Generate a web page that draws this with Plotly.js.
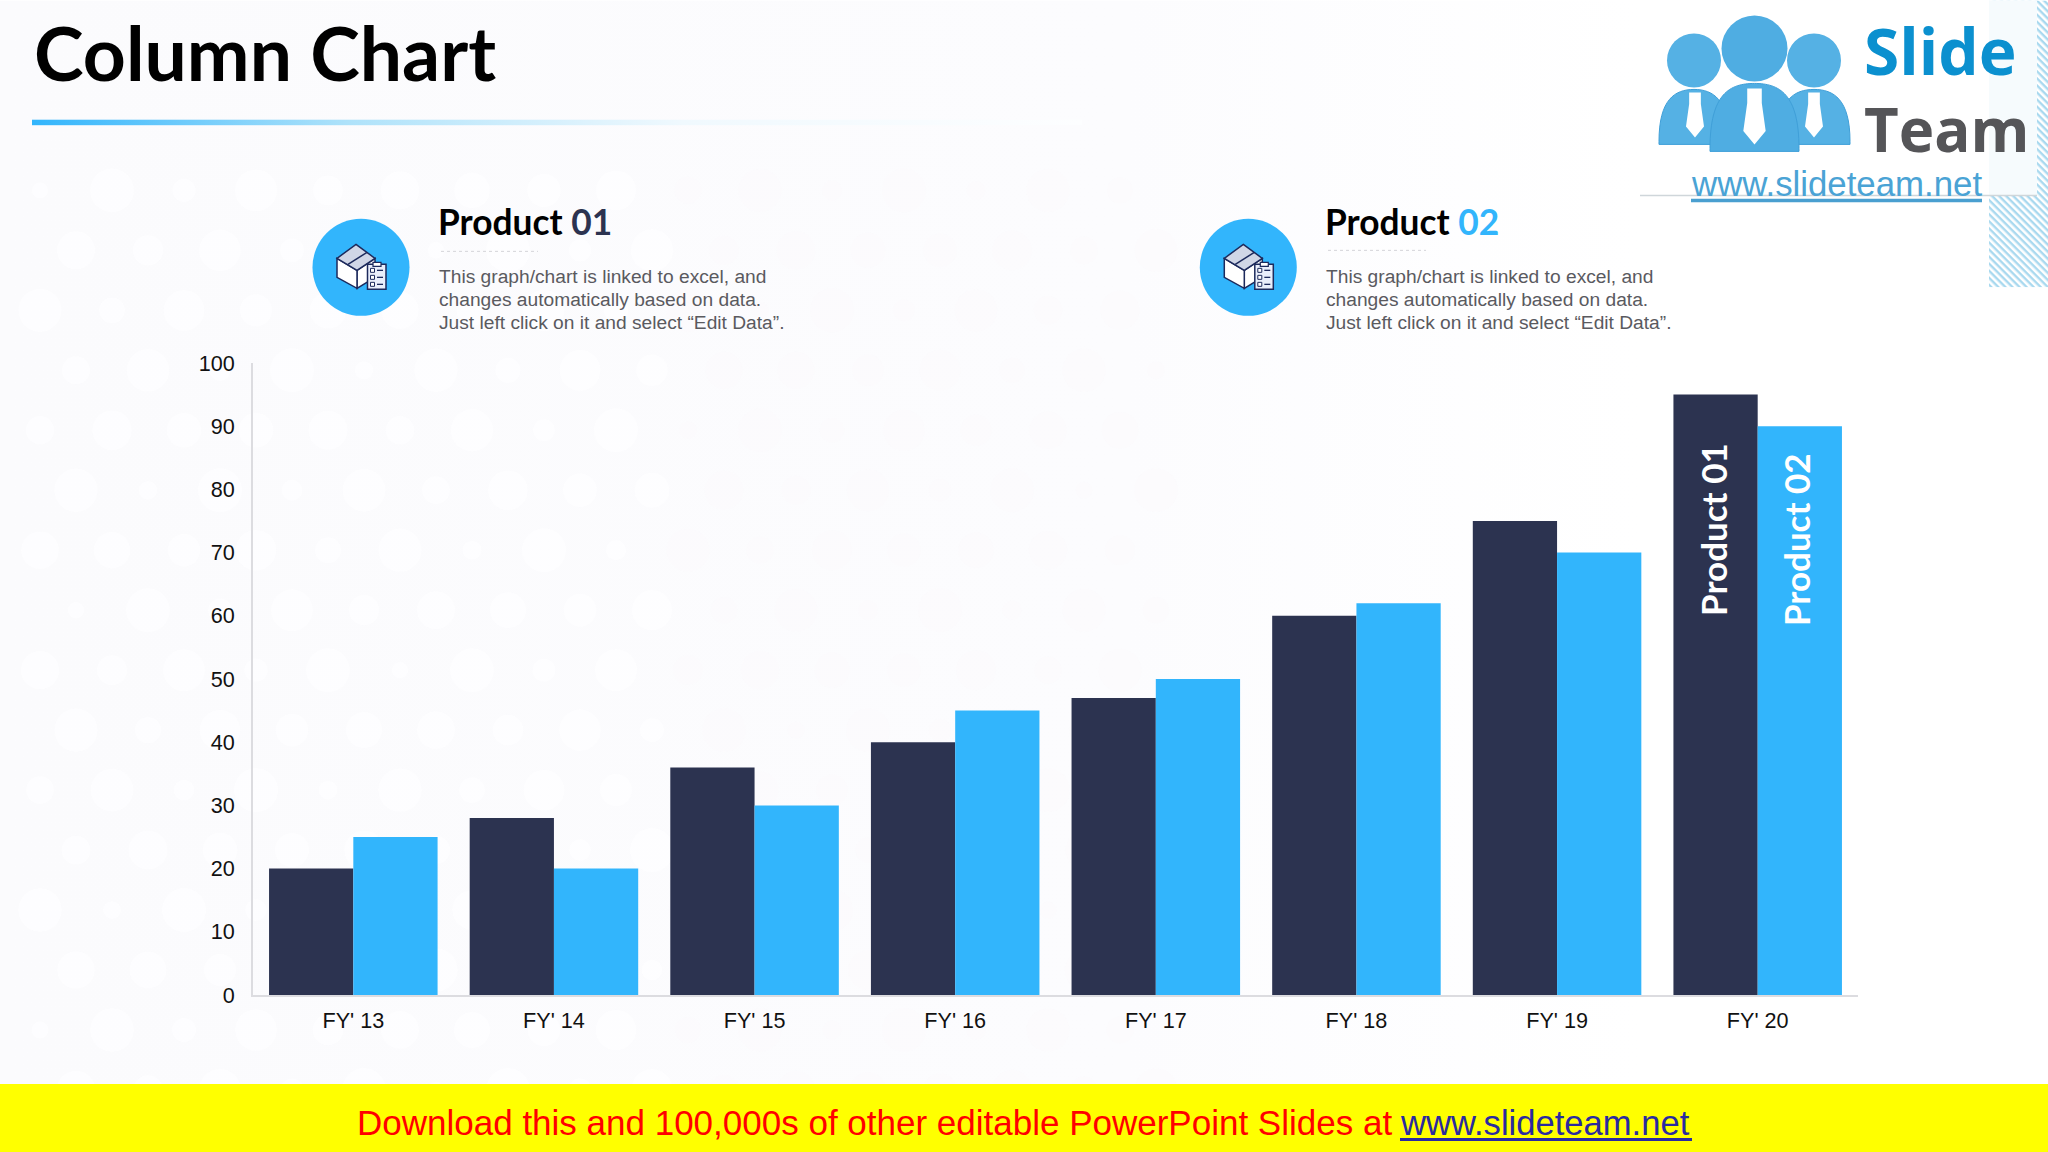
<!DOCTYPE html>
<html>
<head>
<meta charset="utf-8">
<script src="https://cdn.plot.ly/plotly-3.0.1.min.js"></script>
<style>html,body{margin:0;padding:0;background:#fff;overflow:hidden}</style>
</head>
<body>
<div id="chart" style="width:2048px;height:1152px"></div>
<script>
const categories = ["FY' 13","FY' 14","FY' 15","FY' 16","FY' 17","FY' 18","FY' 19","FY' 20"];
const product01 = [20,28,36,40,47,60,75,95];
const product02 = [25,20,30,45,50,62,70,90];
const yTicks = [0,10,20,30,40,50,60,70,80,90,100];
const bodyLines = ["This graph/chart is linked to excel, and","changes automatically based on data.","Just left click on it and select “Edit Data”."];

const DARK = '#2c3350', BLUE = '#32b5fc';
const L = 253, R = 1858, T = 362.7, B = 995;
const px = x => (x - L) / (R - L), py = y => (B - y) / (B - T);
const HEAD = 'Lato, sans-serif', BODY = '"Liberation Sans", Arial, sans-serif';

function uri(svg){ return 'data:image/svg+xml;charset=utf-8,' + encodeURIComponent(svg); }
function img(x,y,w,h,svg,layer){
  return {source:uri(svg),xref:'paper',yref:'paper',x:px(x),y:py(y),sizex:w/(R-L),sizey:h/(B-T),
          xanchor:'left',yanchor:'top',sizing:'stretch',layer:layer||'below'};
}

/* page background: faint halftone */
let dots = '';
for (let j = 0; j < 16; j++) for (let i = 0; i < 16; i++) {
  const cx = 40 + i * 72 + (j % 2) * 36, cy = 190 + j * 60;
  const r = 8 + 14 * Math.abs(Math.sin(i * 1.7 + j * 0.9));
  dots += `<circle cx="${cx}" cy="${cy}" r="${r.toFixed(1)}" fill="${i < 9 ? '#fefeff' : '#fbfafd'}" fill-opacity="0.8"/>`;
}
const bgSvg = `<svg xmlns="http://www.w3.org/2000/svg" width="2048" height="1152">
<defs><linearGradient id="g" x1="0" x2="1" y1="0" y2="0"><stop offset="0" stop-color="#fbfbfd"/><stop offset="0.55" stop-color="#fcfcfe"/><stop offset="0.8" stop-color="#ffffff"/></linearGradient></defs>
<rect width="2048" height="1152" fill="url(#g)"/>${dots}</svg>`;

const lineSvg = `<svg xmlns="http://www.w3.org/2000/svg" width="1050" height="6" preserveAspectRatio="none">
<defs><linearGradient id="l" x1="0" x2="1" y1="0" y2="0"><stop offset="0" stop-color="#32b5fc"/><stop offset="0.3" stop-color="#aee2fa"/><stop offset="0.62" stop-color="#f0f9fe"/><stop offset="1" stop-color="#fdfeff"/></linearGradient></defs>
<rect width="1050" height="6" fill="url(#l)"/></svg>`;

const hatchSvg = `<svg xmlns="http://www.w3.org/2000/svg" width="59" height="287">
<defs><pattern id="h" width="5" height="5" patternUnits="userSpaceOnUse" patternTransform="rotate(45)"><rect width="5" height="5" fill="#fff"/><rect width="5" height="2.4" fill="#a9d9ef"/></pattern></defs>
<rect width="59" height="287" fill="url(#h)"/></svg>`;

/* shape helpers, all in slide pixels */
const shapes = [];
function rect(x0,y0,x1,y1,fill,line,lw){ shapes.push({type:'rect',xref:'paper',yref:'paper',x0:px(x0),x1:px(x1),y0:py(y0),y1:py(y1),fillcolor:fill,line:{color:line||fill,width:line?lw:0}}); }
function circle(cx,cy,r,fill){ shapes.push({type:'circle',xref:'paper',yref:'paper',x0:px(cx-r),x1:px(cx+r),y0:py(cy-r),y1:py(cy+r),fillcolor:fill,line:{width:0}}); }
function seg(x0,y0,x1,y1,color,w,dash){ shapes.push({type:'line',xref:'paper',yref:'paper',x0:px(x0),x1:px(x1),y0:py(y0),y1:py(y1),line:{color:color,width:w,dash:dash||'solid'}}); }
function path(cmds,fill,line,lw){
  const d = cmds.map(c => c[0] + (c.length > 1 ? ' ' + c.slice(1).map((v,i) => (i%2===0?px(v):py(v)).toFixed(5)).join(' ') : '')).join(' ');
  shapes.push({type:'path',xref:'paper',yref:'paper',path:d,fillcolor:fill||'rgba(0,0,0,0)',line:{color:line||'rgba(0,0,0,0)',width:line?lw:0}});
}

/* logo */
rect(1640,0,1989,195,'#ffffff');
rect(1989,0,2037,195,'#f6fbfd');
seg(1640,195,2037,195,'#cfd6da',1.5);
function person(cx,w,top,bottom,headY,headR,color){
  circle(cx,headY,headR,color);
  path([['M',cx-w,bottom-3],['C',cx-w,top+10,cx-w*0.55,top,cx,top],['C',cx+w*0.55,top,cx+w,top+10,cx+w,bottom-3],['L',cx+w,bottom],['L',cx-w,bottom],['Z']],color,'#3f9fd8',1);
}
function tie(cx,top,s){
  path([['M',cx-6.5*s,top],['L',cx+6.5*s,top],['L',cx+6.5*s,top+13*s],['L',cx+10*s,top+38*s],['L',cx,top+50*s],['L',cx-10*s,top+38*s],['L',cx-6.5*s,top+13*s],['Z']],'#ffffff');
}
person(1694,35,89,144,60,27,'#55b1e4');
person(1814,36,89,144,60,27,'#55b1e4');
person(1754.5,44.5,83,151,48,33,'#4fade2');
tie(1695,92,0.9); tie(1814,92,0.9); tie(1754.5,88,1.12);
seg(1691,200,1982,200,'#4a9fd0',3.5);

/* product icons */
function icon(cx,cy){
  circle(cx,cy,48.5,BLUE);
  const n = '#1d2a5c', X = v => cx + v, Y = v => cy + v;
  path([['M',X(-4),Y(3)],['L',X(14),Y(-9)],['L',X(14),Y(10)],['L',X(-4),Y(21)],['Z']],'#ffffff',n,1.5);
  path([['M',X(-24),Y(-9)],['L',X(-4),Y(3)],['L',X(-4),Y(21)],['L',X(-24),Y(10)],['Z']],'#ffffff',n,1.5);
  path([['M',X(-5),Y(-23)],['L',X(14),Y(-9)],['L',X(-4),Y(3)],['L',X(-24),Y(-9)],['Z']],'#d0d6e6',n,1.5);
  seg(X(-13),Y(-3),X(6),Y(-15),n,1.5);
  rect(X(6.5),Y(-3),X(25),Y(22),'#e9eefb',n,1.5);
  rect(X(12),Y(-5),X(20),Y(-1),'#ffffff',n,1.2);
  [3,10,17].forEach(d => { rect(X(9.5),Y(d-2),X(13.5),Y(d+2),'#ffffff',n,1); seg(X(16),Y(d),X(22),Y(d),n,1.3); });
}
icon(361,267); icon(1248.3,267);
seg(441,251,538,251,'#d4d4d8',1,'dot');
seg(1328,250,1426,250,'#d4d4d8',1,'dot');

/* footer */
rect(0,1084,2048,1152,'#ffff00');
seg(1400,1139.5,1692,1139.5,'#2a2aa0',3);

/* text */
const annotations = [];
function txt(x,y,text,size,color,family,extra){
  annotations.push(Object.assign({xref:'paper',yref:'paper',x:px(x),y:py(y),text:text,showarrow:false,xanchor:'left',yanchor:'middle',
    borderpad:0,borderwidth:0,font:{size:size,color:color,family:family}},extra||{}));
}
txt(34,52,'<b>Column Chart</b>',75,'#000000',HEAD);
txt(438,221,'<b>Product <span style="color:'+DARK+'">01</span></b>',35.3,'#000000',HEAD);
txt(1325,221,'<b>Product <span style="color:'+BLUE+'">02</span></b>',35.3,'#000000',HEAD);
bodyLines.forEach((t,i) => {
  txt(439,276+i*23,t,19.2,'#5a5a5f',BODY);
  txt(1325.5,276+i*23,t,19.2,'#5a5a5f',BODY);
});
txt(1864,50,'<b>Slide</b>',64,'#0b90cf','"Open Sans", sans-serif');
txt(1864,129,'<b>Team</b>',60,'#555558','"Open Sans", sans-serif');
txt(1691,183,'www.slideteam.net',34.8,'#4aa3d5',BODY);
txt(357,1123,'Download this and 100,000s of other editable PowerPoint Slides at',35,'#ff0000',BODY);
txt(1400,1123,'www.slideteam.net',34.6,'#2a2aa0',BODY);
annotations.push({xref:'x',yref:'y',x:categories[7],y:73.7,xshift:-44,text:'<b>Product 01</b>',textangle:-90,showarrow:false,borderpad:0,font:{size:35,color:'#ffffff',family:HEAD}});
annotations.push({xref:'x',yref:'y',x:categories[7],y:72.1,xshift:39,text:'<b>Product 02</b>',textangle:-90,showarrow:false,borderpad:0,font:{size:35,color:'#ffffff',family:HEAD}});

const traces = [
  {type:'bar',name:'Product 01',x:categories,y:product01,marker:{color:DARK,line:{width:0}},hoverinfo:'x+y+name'},
  {type:'bar',name:'Product 02',x:categories,y:product02,marker:{color:BLUE,line:{width:0}},hoverinfo:'x+y+name'}
];
const layout = {
  width:2048,height:1152,autosize:false,showlegend:false,barmode:'group',bargap:0.16,bargroupgap:0,
  margin:{l:L,r:2048-R,t:T,b:1152-B,pad:0},
  paper_bgcolor:'#ffffff',plot_bgcolor:'rgba(0,0,0,0)',
  font:{family:BODY,size:21.6,color:'#111111'},
  xaxis:{type:'category',categories:categories,showgrid:false,zeroline:false,showline:true,linecolor:'#dcdce0',linewidth:2,ticks:'',ticklabelstandoff:5,tickfont:{size:21.6,color:'#111111',family:BODY},fixedrange:true},
  yaxis:{range:[0,100],tickvals:yTicks,showgrid:false,zeroline:false,showline:true,linecolor:'#dcdce0',linewidth:2,ticks:'',ticklabelstandoff:12,tickfont:{size:21.6,color:'#111111',family:BODY},fixedrange:true},
  images:[img(0,0,2048,1152,bgSvg), img(32,119,1050,6,lineSvg), img(1989,0,59,287,hatchSvg)],
  shapes:shapes,annotations:annotations
};
Plotly.newPlot('chart',traces,layout,{displayModeBar:false,responsive:false});
</script>
</body>
</html>
